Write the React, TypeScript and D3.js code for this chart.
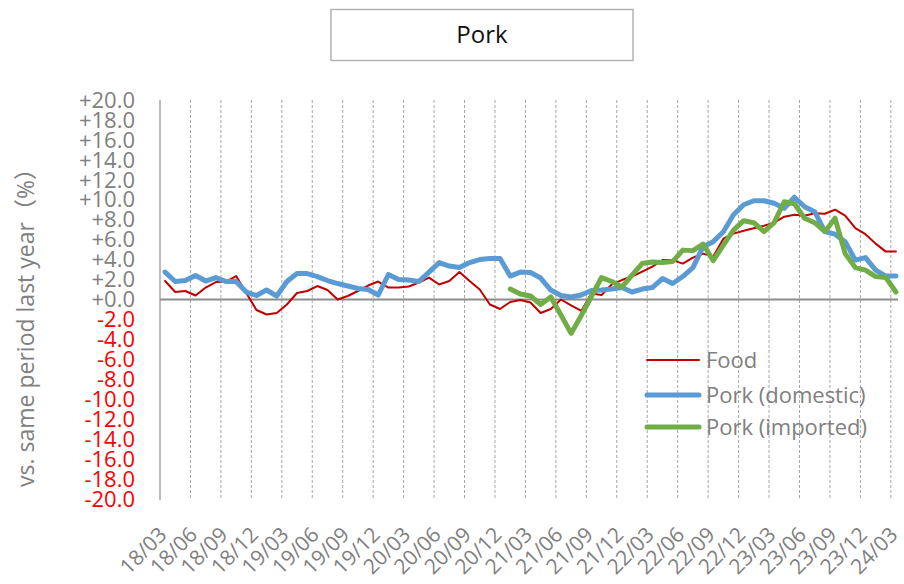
import React from "react";
import * as d3 from "d3";

const months: string[] = (() => {
  const out: string[] = [];
  for (let y = 18; y <= 24; y++) {
    for (let m = 1; m <= 12; m++) {
      if (y === 18 && m < 3) continue;
      if (y === 24 && m > 3) continue;
      out.push(`${y}/${String(m).padStart(2, "0")}`);
    }
  }
  return out;
})();

const food: number[] = [
  1.85, 0.75, 0.85, 0.4, 1.2, 1.75, 1.8, 2.35, 0.65, -1.05,
  -1.5, -1.35, -0.5, 0.65, 0.85, 1.35, 0.95, 0.0, 0.35, 0.85,
  1.4, 1.8, 1.2, 1.2, 1.3, 1.7, 2.2, 1.5, 1.85, 2.75,
  1.85, 1.0, -0.5, -0.95, -0.25, -0.05, -0.3, -1.35, -0.95, 0.0,
  -0.6, -1.15, 0.6, 0.45, 1.5, 1.95, 2.3, 2.8, 3.3, 3.95,
  3.95, 3.6, 4.2, 4.6, 4.3, 6.1, 6.6, 6.9, 7.15, 7.4,
  7.7, 8.3, 8.5, 8.4, 8.65, 8.6, 9.0, 8.4, 7.15, 6.55,
  5.6, 4.8, 4.8,
];

const porkDomestic: number[] = [
  2.75, 1.8, 1.9, 2.4, 1.85, 2.2, 1.8, 1.8, 0.75, 0.4,
  0.95, 0.35, 1.8, 2.6, 2.6, 2.3, 1.9, 1.6, 1.35, 1.1,
  1.0, 0.45, 2.5, 2.0, 1.95, 1.8, 2.75, 3.7, 3.35, 3.2,
  3.7, 4.0, 4.1, 4.1, 2.35, 2.75, 2.7, 2.15, 0.95, 0.4,
  0.25, 0.45, 0.9, 0.95, 1.05, 1.2, 0.75, 1.05, 1.2, 2.1,
  1.6, 2.3, 3.2, 5.3, 5.8, 6.8, 8.5, 9.5, 9.9, 9.9,
  9.65, 9.15, 10.25, 9.3, 8.8, 6.8, 6.55, 5.8, 3.95, 4.2,
  2.95, 2.35, 2.35,
];

const porkImported: (number | null)[] = [
  null, null, null, null, null, null, null, null, null, null,
  null, null, null, null, null, null, null, null, null, null,
  null, null, null, null, null, null, null, null, null, null,
  null, null, null, null, 1.05, 0.55, 0.35, -0.5, 0.25, -1.55,
  -3.4, -1.6, 0.3, 2.2, 1.8, 1.25, 2.45, 3.6, 3.75, 3.7,
  3.8, 4.95, 4.9, 5.55, 3.9, 5.45, 6.95, 7.9, 7.7, 6.8,
  7.7, 9.8, 9.6, 8.15, 7.7, 6.8, 8.15, 4.6, 3.2, 2.95,
  2.3, 2.2, 0.75,
];

const yTicks: number[] = d3.range(-20, 20.001, 2);

const seriesNames: string[] = ["Food", "Pork (domestic)", "Pork (imported)"];
const seriesColors: string[] = ["#c00000", "#5b9bd5", "#70ad47"];
const seriesWidths: number[] = [2, 5, 5];

const W = 904;
const H = 584;
const plotLeft = 160;
const plotRight = 901;
const plotTop = 100;
const plotBottom = 499;

export default function App() {
  const x = d3.scaleBand<string>().domain(months).range([plotLeft, plotRight]).padding(0);
  const y = d3.scaleLinear().domain([-20, 20]).range([plotBottom, plotTop]);
  const cx = (i: number) => (x(months[i]) as number) + x.bandwidth() / 2;

  const line = d3
    .line<number | null>()
    .defined((d) => d !== null)
    .x((_, i) => cx(i))
    .y((d) => y(d as number));

  const allSeries: (number | null)[][] = [food, porkDomestic, porkImported];
  const tickIdx = months.map((_, i) => i).filter((i) => i % 3 === 0);
  const fontFam = "'Open Sans', 'Noto Sans CJK JP', sans-serif";
  const grey = "#808080";

  return (
    <svg
      width={W}
      height={H}
      style={{ position: "absolute", left: 0, top: 0, background: "#fff" }}
      fontFamily={fontFam}
    >
      <rect x={0} y={0} width={W} height={H} fill="#fff" />
      {/* title */}
      <rect x={331} y={9.5} width={302} height={51} fill="#fff" stroke="#b3b3b3" strokeWidth={1.5} />
      <text x={482} y={35} textAnchor="middle" dy="0.35em" fontSize={24} fill="#111">
        Pork
      </text>

      {/* vertical dashed gridlines */}
      {tickIdx.map((i) =>
        i === 0 ? null : (
          <line
            key={`g${i}`}
            x1={x(months[i]) as number}
            x2={x(months[i]) as number}
            y1={plotTop}
            y2={plotBottom + 1}
            stroke="#a6a6a6"
            strokeWidth={1}
            strokeDasharray="3,2"
          />
        )
      )}

      {/* y axis line */}
      <line x1={plotLeft} x2={plotLeft} y1={plotTop} y2={plotBottom + 1} stroke="#a6a6a6" strokeWidth={1.5} />

      {/* zero line */}
      <line x1={plotLeft} x2={plotRight - 3} y1={y(0)} y2={y(0)} stroke="#8c8c8c" strokeWidth={2} />

      {/* y tick labels */}
      {yTicks.map((t) => (
        <text
          key={`yt${t}`}
          x={135}
          y={y(t)}
          dy="0.35em"
          textAnchor="end"
          fontSize={22}
          fill={t < 0 ? "#ff0000" : grey}
        >
          {(t >= 0 ? "+" : "") + t.toFixed(1)}
        </text>
      ))}

      {/* y axis title */}
      <text
        transform="translate(26,322) rotate(-90)"
        textAnchor="middle"
        dy="0.35em"
        fontSize={23}
        fill={grey}
      >
        vs. same period last year（%）
      </text>

      {/* x tick labels */}
      {tickIdx.map((i) => (
        <text
          key={`xl${i}`}
          transform={`translate(${cx(i) + 3},536) rotate(-45)`}
          textAnchor="end"
          fontSize={21}
          fill={grey}
        >
          {months[i]}
        </text>
      ))}

      {/* series */}
      {allSeries.map((s, k) => (
        <path
          key={`s${k}`}
          d={line(s) || ""}
          fill="none"
          stroke={seriesColors[k]}
          strokeWidth={seriesWidths[k]}
          strokeLinejoin="round"
          strokeLinecap="round"
        />
      ))}

      {/* legend */}
      {seriesNames.map((n, k) => {
        const ly = [360, 395, 427][k];
        return (
          <g key={`lg${k}`}>
            <line
              x1={647}
              x2={699}
              y1={ly}
              y2={ly}
              stroke={seriesColors[k]}
              strokeWidth={seriesWidths[k]}
              strokeLinecap="round"
            />
            <text x={706} y={ly} dy="0.35em" fontSize={22} fill={grey}>
              {n}
            </text>
          </g>
        );
      })}
    </svg>
  );
}
